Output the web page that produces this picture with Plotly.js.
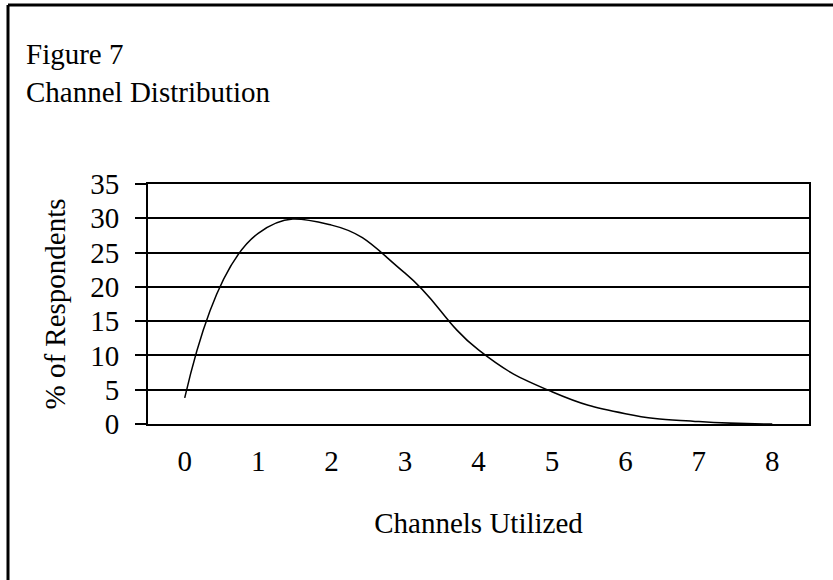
<!DOCTYPE html>
<html>
<head>
<meta charset="utf-8">
<script src="https://cdn.plot.ly/plotly-3.0.1.min.js"></script>
<style>
html,body{margin:0;padding:0;background:#fff;}
#chart{width:833px;height:580px;}
</style>
</head>
<body>
<div id="chart"></div>
<script>
const channels = [0, 1, 2, 3, 4, 5, 6, 7, 8];
const respondentsPct = [3.8, 27.8, 29.0, 22.0, 10.8, 4.7, 1.5, 0.35, 0];
const yTicks = [0, 5, 10, 15, 20, 25, 30, 35];

const W = 833, H = 580;
const M = {l: 148, r: 24, t: 184, b: 156};
const pw = W - M.l - M.r, ph = H - M.t - M.b;
const px2x = p => (p - M.l) / pw;
const px2y = p => (H - M.b - p) / ph;

const FONT = 'Liberation Serif, Times New Roman, serif';

const trace = {
  x: channels,
  y: respondentsPct,
  type: 'scatter',
  mode: 'lines',
  line: {color: '#000', width: 1.5, shape: 'spline', smoothing: 1.3},
  hoverinfo: 'skip',
  cliponaxis: true
};

const layout = {
  width: W, height: H,
  margin: M,
  paper_bgcolor: '#fff',
  plot_bgcolor: '#fff',
  showlegend: false,
  font: {family: FONT, size: 29, color: '#000'},
  title: {
    text: 'Figure 7<br>Channel Distribution',
    x: 26 / W, xanchor: 'left', xref: 'container',
    y: 1 - 64 / H, yanchor: 'top', yref: 'container',
    font: {family: FONT, size: 29, color: '#000'}
  },
  xaxis: {
    range: [-0.5, 8.5],
    tickvals: channels,
    ticktext: channels.map(String),
    ticks: '',
    showgrid: false,
    zeroline: false,
    showline: true, mirror: true, linecolor: '#000', linewidth: 2,
    ticklabelstandoff: 10,
    tickfont: {family: FONT, size: 29, color: '#000'},
    title: {text: 'Channels Utilized', standoff: 37, font: {family: FONT, size: 29, color: '#000'}},
    fixedrange: true
  },
  yaxis: {
    range: [0, 35],
    tickvals: yTicks,
    ticktext: yTicks.map(String),
    ticks: 'outside', ticklen: 11, tickwidth: 2, tickcolor: '#000',
    showgrid: true, gridcolor: '#000', gridwidth: 2,
    zeroline: false,
    showline: true, mirror: true, linecolor: '#000', linewidth: 2,
    ticklabelstandoff: 10,
    tickfont: {family: FONT, size: 29, color: '#000'},
    title: {text: '% of Respondents', standoff: 16, font: {family: FONT, size: 29, color: '#000'}},
    fixedrange: true
  },
  shapes: [
    {type: 'line', xref: 'paper', yref: 'paper', x0: px2x(8), x1: px2x(8), y0: px2y(H + 10), y1: px2y(5), line: {color: '#000', width: 3}},
    {type: 'line', xref: 'paper', yref: 'paper', x0: px2x(8), x1: px2x(W + 10), y0: px2y(5), y1: px2y(5), line: {color: '#000', width: 3}}
  ]
};

Plotly.newPlot('chart', [trace], layout, {displayModeBar: false, staticPlot: true});
</script>
</body>
</html>
